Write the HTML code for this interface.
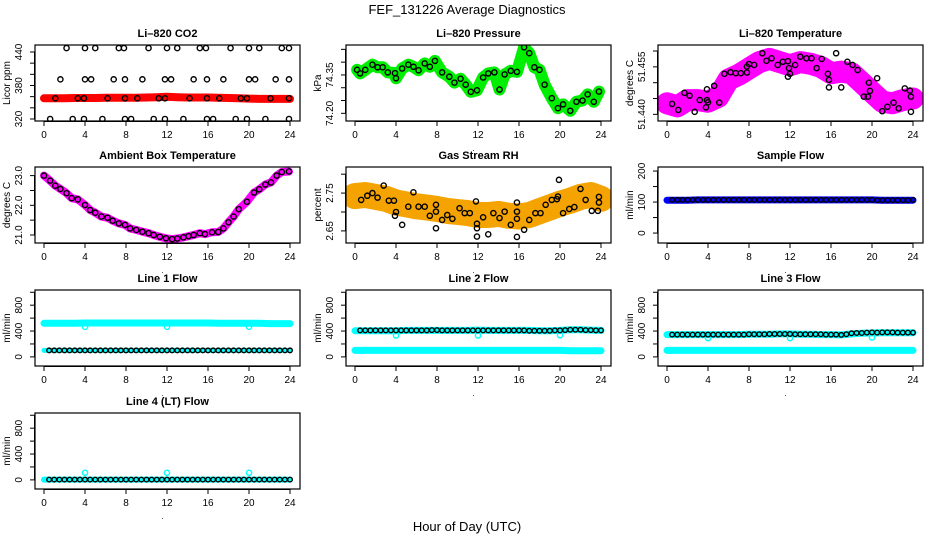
<!DOCTYPE html>
<html><head><meta charset="utf-8"><style>
html,body{margin:0;padding:0;background:#fff;}
svg{display:block;font-family:"Liberation Sans",sans-serif;}
</style></head><body>
<svg id="c" width="936" height="540" viewBox="0 0 936 540">
<defs id="defs"></defs>
<text x="467" y="14" font-size="13" text-anchor="middle">FEF_131226  Average Diagnostics</text>
<text x="467" y="531" font-size="13" text-anchor="middle">Hour of Day (UTC)</text>
</svg>
<script>
// ---------- data ----------
const halfHours=[0.5,1,1.5,2,2.5,3,3.5,4,4.5,5,5.5,6,6.5,7,7.5,8,8.5,9,9.5,10,10.5,11,11.5,12,12.5,13,13.5,14,14.5,15,15.5,16,16.5,17,17.5,18,18.5,19,19.5,20,20.5,21,21.5,22,22.5,23,23.5,24];
const hours=[0,1,2,3,4,5,6,7,8,9,10,11,12,13,14,15,16,17,18,19,20,21,22,23,24];

const co2Hours=[2.2,4,5,7.3,7.8,10.2,12,13,15.2,15.8,18.2,20,21,23.2,23.9, 1.6,4,4.6,6.8,7.9,9.6,11.8,12.4,14.6,15.9,17.5,20,20.6,22.6,23.9, 1.1,3.3,3.9,6.2,7.9,9.1,11.2,11.8,14.2,15.9,17.1,19.2,19.8,22.1,23.9, 0.6,2.8,3.9,5.7,7.9,8.5,10.7,11.8,13.6,15.9,16.5,18.7,19.8,21.6,23.9];
const co2Vals=[447,447,447,447,447,447,447,447,447,447,447,447,447,447,447, 391,391,391,391,391,391,391,391,391,391,391,391,391,391,391, 357,357,357,357,357,357,357,357,357,357,357,357,357,357,357, 320,320,320,320,320,320,320,320,320,320,320,320,320,320,320];
const co2Band=[357,357,357,357.5,357.5,357.5,358,358,358,358,358.5,359,360,359,358.5,358.5,358.5,358,357.5,357,356.5,356,356,356,356];

const presHours=[0.2,0.5,1,1.7,2.2,2.7,3.2,3.9,4,4.6,5.2,5.7,6.2,6.8,7.3,7.8,8.5,9.2,9.7,10.3,10.8,11.3,11.9,12.5,13,13.6,14.1,14.6,15.2,15.8,16.5,17,17.5,18,18.5,19.2,19.8,20.3,21,21.6,22.2,22.7,23.3,23.8];
const presVals=[74.37,74.356,74.37,74.39,74.38,74.38,74.36,74.357,74.337,74.375,74.39,74.382,74.368,74.395,74.382,74.405,74.36,74.343,74.32,74.335,74.312,74.284,74.29,74.34,74.356,74.36,74.293,74.352,74.366,74.362,74.458,74.435,74.38,74.37,74.312,74.259,74.22,74.235,74.21,74.245,74.25,74.274,74.245,74.285];

const tempHours=[0.5,1.1,1.7,2.2,2.7,3.2,3.8,3.9,4,3.9,4.6,5.1,5.6,6.2,6.7,7.2,7.8,7.8,8,8.5,9.3,9.7,10.2,10.8,11.3,11.8,11.9,11.8,12,12.5,13,13.6,14.1,14.6,15.1,15.7,15.8,15.8,16.5,17,17.6,18.1,18.6,19.2,19.6,19.8,19.7,20.5,21,21.5,22.1,22.6,23.2,23.7,23.8,23.8];
const tempVals=[51.4433,51.4414,51.4468,51.4459,51.4408,51.4445,51.4422,51.4445,51.4438,51.4479,51.4490,51.4437,51.4528,51.4533,51.4530,51.4530,51.4532,51.4551,51.4559,51.4556,51.4593,51.4569,51.4577,51.4556,51.4566,51.4568,51.4546,51.4519,51.4528,51.4556,51.4582,51.4577,51.4577,51.4546,51.4575,51.4528,51.4509,51.4485,51.4593,51.4485,51.4566,51.4556,51.4540,51.4456,51.4456,51.4474,51.4500,51.4514,51.4410,51.4424,51.4437,51.4419,51.4482,51.4475,51.4456,51.4408];
const tempBand=[51.4435,51.4425,51.4445,51.4445,51.4440,51.4455,51.4510,51.4525,51.4545,51.4565,51.4575,51.4565,51.4555,51.4565,51.4560,51.4550,51.4530,51.4535,51.4530,51.4500,51.4470,51.4440,51.4435,51.4445,51.4450];

const ambHours=[0,0.6,1.1,1.6,2.2,2.7,3.3,4,4.5,5,5.6,6.2,6.7,7.3,7.9,8.4,9,9.6,10.2,10.7,11.3,11.9,12.5,13,13.6,14.1,14.6,15.2,15.7,16.4,17,17.5,18,18.5,19,19.8,20.5,21,21.6,22.15,22.7,23.2,23.9];
const ambVals=[23.0,22.83,22.66,22.55,22.41,22.24,22.2,22.01,21.84,21.75,21.62,21.58,21.48,21.39,21.34,21.22,21.17,21.11,21.06,21.0,20.94,20.89,20.86,20.88,20.92,20.96,21.0,21.06,21.03,21.09,21.1,21.22,21.43,21.62,21.87,22.12,22.43,22.54,22.7,22.77,23.0,23.12,23.14];

const rhHours=[0.6,1.2,1.7,2.2,2.8,3.3,3.8,3.9,4,4.6,5.2,5.7,6.2,6.8,7.3,7.9,7.9,7.9,8.5,9,9.5,10.2,10.7,11.2,11.8,11.9,11.9,11.9,12.5,13,13.5,14.1,14.6,15.2,15.8,15.8,15.8,15.8,16.5,17,17.6,18.1,18.6,19.2,19.7,19.8,19.9,20.3,20.9,21.4,22,22.5,23.1,23.7,23.8,23.8];
const rhVals=[2.732,2.743,2.750,2.738,2.770,2.730,2.730,2.690,2.700,2.666,2.714,2.752,2.714,2.714,2.690,2.719,2.701,2.657,2.679,2.692,2.682,2.710,2.697,2.697,2.728,2.669,2.657,2.635,2.686,2.641,2.697,2.684,2.701,2.666,2.725,2.701,2.682,2.634,2.653,2.679,2.697,2.697,2.719,2.732,2.734,2.741,2.785,2.697,2.708,2.713,2.761,2.732,2.703,2.703,2.725,2.740];
const rhBand=[2.742,2.745,2.740,2.735,2.725,2.720,2.715,2.712,2.708,2.703,2.700,2.697,2.692,2.692,2.695,2.690,2.688,2.692,2.702,2.712,2.722,2.730,2.740,2.745,2.735];

const sampleBand=[106,106,106,107,107,107,107,107,107,107,107,107,107,107,107,107,107,107,107,107,107,106,106,106,106];
const sampleBlack=[107,107,107,107,107,107,107,107,107,107,107,107,107,107,107,107,107,107,107,107,107,107,107,107,107,107,107,107,107,107,107,107,107,107,107,107,107,107,107,107,106,106,106,106,106,106,106,107];

const line1Cyan=[520,520,520,520,525,525,525,525,525,525,525,525,525,525,525,525,525,520,520,520,520,520,515,515,515];
const line1Black=[100,100,100,100,100,100,100,100,100,100,100,100,100,100,100,100,100,100,100,100,100,100,100,100,100,100,100,100,100,100,100,100,100,100,100,100,100,100,100,100,100,100,100,100,100,100,100,100];
const line1OutHours=[4,12,20];
const line1OutVals=[465,465,465];

const line2CyanLow=[100,100,100,100,100,100,100,100,100,100,100,100,100,100,100,100,100,100,100,100,100,95,95,95,95];
const line2CyanHigh=[405,405,405,405,405,410,410,410,410,410,410,410,415,410,410,410,410,410,405,405,410,420,420,415,410];
const line2Black=[410,410,410,410,410,410,410,410,410,410,410,410,410,410,415,415,410,410,410,410,410,410,410,410,410,410,410,410,410,410,410,410,410,405,405,405,405,405,410,410,415,420,420,420,415,415,410,410];
const line2OutHours=[4,12,20];
const line2OutVals=[330,330,335];

const line3CyanLow=[100,100,100,100,100,100,100,100,100,100,100,100,100,100,100,100,100,100,100,100,100,100,100,100,100];
const line3CyanHigh=[345,345,345,345,345,345,345,345,350,350,350,355,355,350,350,345,345,340,355,365,370,375,375,375,375];
const line3Black=[345,345,345,345,345,345,345,345,345,345,345,345,345,345,345,350,350,350,350,355,355,355,355,355,350,350,350,350,350,350,345,345,345,340,350,365,370,370,375,380,375,380,380,380,375,375,375,375];
const line3OutHours=[4,12,20];
const line3OutVals=[290,290,300];

const line4Cyan=[5,5,5,5,5,5,5,5,5,5,5,5,5,5,5,5,5,5,5,5,5,5,5,5,5];
const line4Black=[5,5,5,5,5,5,5,5,5,5,5,5,5,5,5,5,5,5,5,5,5,5,5,5,5,5,5,5,5,5,5,5,5,5,5,5,5,5,5,5,5,5,5,5,5,5,5,5];
const line4OutHours=[4,12,20];
const line4OutVals=[110,110,110];

// ---------- drawing ----------
const NS="http://www.w3.org/2000/svg";
const svg=document.getElementById('c');
const defs=document.getElementById('defs');
function mk(tag,attrs,parent){const e=document.createElementNS(NS,tag);for(const k in attrs)e.setAttribute(k,attrs[k]);(parent||svg).appendChild(e);return e;}

function panel(name,col,row,title,ylab,ymin,ymax,ticks,labels,fmt){
  const L=[35,346,658][col],T=[45,167,290,413][row],W=265,H=76;
  const g=mk('g',{});
  
  
  const x=h=>L+9+h/24*246;
  const y=v=>T+H-(v-ymin)/(ymax-ymin)*H;
  const cp=mk('clipPath',{id:name+'-clip'},defs);
  mk('rect',{x:L,y:T,width:W,height:H},cp);
  const t=mk('text',{x:L+W/2,y:T-8,'font-size':11,'font-weight':'bold','text-anchor':'middle'},g);
  t.textContent=title;
  
  
  for(let h=0;h<=24;h+=4){
    mk('line',{x1:x(h),x2:x(h),y1:T+H,y2:T+H+5,stroke:'#000','stroke-width':1},g);
    const lt=mk('text',{x:x(h),y:T+H+17,'font-size':10,'text-anchor':'middle'},g);
    lt.textContent=h;
    
    
  }
  mk('line',{x1:x(0),x2:x(24),y1:T+H+0.5,y2:T+H+0.5,stroke:'#000'},g);
  const dot=mk('text',{x:L+W/2-5,y:T+H+30,'font-size':8,'text-anchor':'middle'},g);
  dot.textContent='.';
  
  
  mk('line',{x1:L-0.5,x2:L-0.5,y1:y(ticks[0]),y2:y(ticks[ticks.length-1]),stroke:'#000'},g);
  ticks.forEach(v=>{mk('line',{x1:L-5,x2:L,y1:y(v),y2:y(v),stroke:'#000'},g);});
  labels.forEach(v=>{
    const lt=mk('text',{x:0,y:0,'font-size':10,'text-anchor':'middle',transform:`translate(${L-13},${y(v)}) rotate(-90)`},g);
    lt.textContent=fmt(v);
    
    
  });
  const yl=mk('text',{x:0,y:0,'font-size':10,'text-anchor':'middle',transform:`translate(${L-25},${T+H/2}) rotate(-90)`},g);
  yl.textContent=ylab;
  
  
  const data=mk('g',{'clip-path':`url(#${name}-clip)`},g);
  
  
  const box=mk('rect',{x:L,y:T,width:W,height:H,fill:'none',stroke:'#000','stroke-width':1.2},g);
  
  
  return {x,y,g:data};
}
function band(p,xs,vs,color,w,name){
  const pts=xs.map((h,i)=>p.x(h).toFixed(1)+','+p.y(vs[i]).toFixed(1)).join(' ');
  const e=mk('polyline',{points:pts,fill:'none',stroke:color,'stroke-width':w,'stroke-linejoin':'round','stroke-linecap':'round'},p.g);
  
  
}
function circles(p,xs,vs,color,name,r){
  xs.forEach((h,i)=>{
    const e=mk('circle',{cx:p.x(h),cy:p.y(vs[i]),r:r||2.6,fill:'none',stroke:color,'stroke-width':1.4},p.g);
    
    
  });
}
const f0=v=>String(v), f1=v=>v.toFixed(1), f2=v=>v.toFixed(2), f3=v=>v.toFixed(3);

let p=panel('co2',0,0,'Li\u2013820 CO2','Licor ppm',316.4,452.5,[320,340,360,380,400,420,440],[320,380,440],f0);
band(p,hours,co2Band,'#ff0000',8,'co2-band');
circles(p,co2Hours,co2Vals,'#000','co2-point');

p=panel('pressure',1,0,'Li\u2013820 Pressure','kPa',74.17,74.467,[74.20,74.25,74.30,74.35,74.40,74.45],[74.20,74.35],f2);
band(p,presHours,presVals,'#00ee00',12,'pressure-band');
circles(p,presHours,presVals,'#000','pressure-point');

p=panel('li820-temp',2,0,'Li\u2013820 Temperature','degrees C',51.4379,51.4619,[51.440,51.445,51.450,51.455,51.460],[51.440,51.455],f3);
band(p,hours,tempBand,'#ff00ff',22,'temp-band');
circles(p,tempHours,tempVals,'#000','temp-point');

p=panel('ambient',0,1,'Ambient Box Temperature','degrees C',20.73,23.29,[21,21.5,22,22.5,23],[21,22,23],f1);
band(p,ambHours,ambVals,'#ff00ff',8,'ambient-band');
circles(p,ambHours,ambVals,'#000','ambient-point');

p=panel('rh',1,1,'Gas Stream RH','percent',2.618,2.819,[2.65,2.70,2.75,2.80],[2.65,2.75],f2);
band(p,hours,rhBand,'#f5a300',26,'rh-band');
circles(p,rhHours,rhVals,'#000','rh-point');

p=panel('sample-flow',2,1,'Sample Flow','ml/min',-32,213,[0,50,100,150,200],[0,100,200],f0);
band(p,hours,sampleBand,'#0000ff',7,'sample-band');
circles(p,halfHours,sampleBlack,'#000','sample-point',2.3);

const flowTicks=[0,200,400,600,800,1000], flowLabels=[0,400,800];
p=panel('line1',0,2,'Line 1 Flow','ml/min',-141,1035,flowTicks,flowLabels,f0);
band(p,hours,line1Cyan,'#00ffff',7,'line1-cyan-band');
band(p,hours,line1Black,'#00ffff',5,'line1-cyan-low');
circles(p,line1OutHours,line1OutVals,'#00ffff','line1-outlier');
circles(p,halfHours,line1Black,'#000','line1-point',2.3);

p=panel('line2',1,2,'Line 2 Flow','ml/min',-141,1035,flowTicks,flowLabels,f0);
band(p,hours,line2CyanLow,'#00ffff',7,'line2-cyan-low');
band(p,hours,line2CyanHigh,'#00ffff',7,'line2-cyan-high');
circles(p,line2OutHours,line2OutVals,'#00ffff','line2-outlier');
circles(p,halfHours,line2Black,'#000','line2-point',2.3);

p=panel('line3',2,2,'Line 3 Flow','ml/min',-141,1035,flowTicks,flowLabels,f0);
band(p,hours,line3CyanLow,'#00ffff',7,'line3-cyan-low');
band(p,hours,line3CyanHigh,'#00ffff',7,'line3-cyan-high');
circles(p,line3OutHours,line3OutVals,'#00ffff','line3-outlier');
circles(p,halfHours,line3Black,'#000','line3-point',2.3);

p=panel('line4',0,3,'Line 4 (LT) Flow','ml/min',-141,1035,flowTicks,flowLabels,f0);
band(p,hours,line4Cyan,'#00ffff',6,'line4-cyan-band');
circles(p,line4OutHours,line4OutVals,'#00ffff','line4-outlier');
circles(p,halfHours,line4Black,'#000','line4-point',2.3);
</script>
</body></html>
